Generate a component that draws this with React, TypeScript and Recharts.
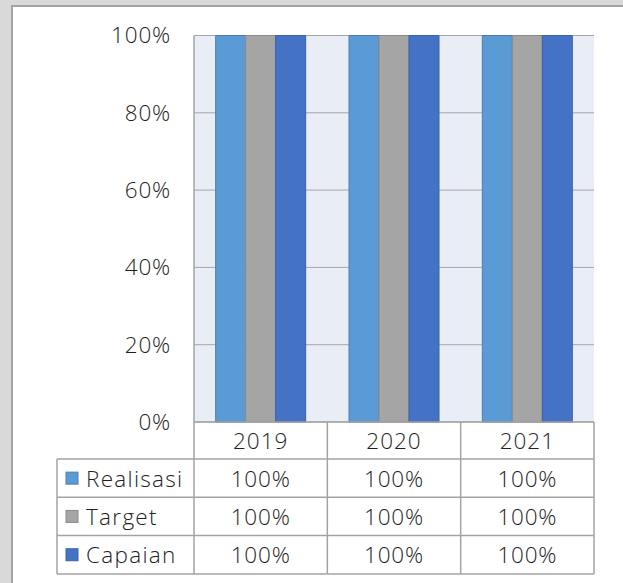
import { BarChart, Bar, XAxis, YAxis, CartesianGrid } from 'recharts';

const years = ['2019', '2020', '2021'];
const realisasi = [1, 1, 1];
const target = [1, 1, 1];
const capaian = [1, 1, 1];
const yTicks = [0, 0.2, 0.4, 0.6, 0.8, 1];

const series = [
  { key: 'realisasi', name: 'Realisasi', fill: '#5B9BD5', stroke: '#4A7FB0', values: realisasi },
  { key: 'target', name: 'Target', fill: '#A5A5A5', stroke: '#8A8A8A', values: target },
  { key: 'capaian', name: 'Capaian', fill: '#4472C4', stroke: '#3A62A8', values: capaian },
];

const data = years.map((year, i) => ({
  year,
  realisasi: realisasi[i],
  target: target[i],
  capaian: capaian[i],
}));

const FONT = '"Open Sans", "DejaVu Sans", sans-serif';
const TEXT = '#1e1e1e';
const LINE = '#a3a3a3';
const HEADER_H = 37;
const ROW_H = 38.3;
const LEGEND_W = 137;

const pct = (v: number) => `${Math.round(v * 100)}%`;

// draws one column of the data table under each category
function TableTick(props: any) {
  const { x, y, width, payload, index } = props;
  const colW = width / years.length;
  const left = x - colW / 2;
  const right = x + colW / 2;
  const bottom = y + HEADER_H + ROW_H * series.length;
  const lines = [];
  lines.push(<line key="vl" x1={left} x2={left} y1={y} y2={bottom} />);
  if (index === years.length - 1) lines.push(<line key="vr" x1={right} x2={right} y1={y} y2={bottom} />);
  for (let r = 0; r <= series.length; r++) {
    const ly = y + HEADER_H + ROW_H * r;
    const lx = index === 0 ? left - LEGEND_W : left;
    lines.push(<line key={`h${r}`} x1={lx} x2={right} y1={ly} y2={ly} />);
  }
  if (index === 0) {
    lines.push(
      <line key="lg" x1={left - LEGEND_W} x2={left - LEGEND_W} y1={y + HEADER_H} y2={bottom} />
    );
  }
  return (
    <g>
      <g stroke={LINE} strokeWidth={1.5}>{lines}</g>
      <text x={x} y={y + HEADER_H / 2} textAnchor="middle" dominantBaseline="central"
        fontFamily={FONT} fontWeight={300} fontSize={22.5} fill={TEXT} letterSpacing={1}>
        {payload.value}
      </text>
      {series.map((s, r) => {
        const cy = y + HEADER_H + ROW_H * r + ROW_H / 2;
        return (
          <g key={s.key}>
            <text x={x} y={cy} textAnchor="middle" dominantBaseline="central"
              fontFamily={FONT} fontWeight={300} fontSize={22.5} fill={TEXT} letterSpacing={0.8}>
              {pct(s.values[index])}
            </text>
            {index === 0 && (
              <g>
                <rect x={left - LEGEND_W + 9} y={cy - 6} width={12} height={12}
                  fill={s.fill} stroke={s.stroke} strokeWidth={1} />
                <text x={left - LEGEND_W + 29} y={cy} dominantBaseline="central"
                  fontFamily={FONT} fontWeight={300} fontSize={22.5} fill={TEXT} letterSpacing={1.3}>
                  {s.name}
                </text>
              </g>
            )}
          </g>
        );
      })}
    </g>
  );
}

export default function App() {
  return (
    <div style={{ position: 'absolute', left: 0, top: 0, width: 623, height: 583, overflow: 'hidden', background: '#d9d9d9' }}>
      <div style={{ position: 'absolute', left: 11, top: 5, width: 700, height: 700, background: '#fff', borderLeft: `2px solid ${LINE}`, borderTop: `2px solid ${LINE}` }} />
      <div style={{ position: 'absolute', left: 0, top: 0 }}>
        <BarChart width={623} height={583} data={data}
          margin={{ top: 35.5, right: 29, bottom: 9, left: 0 }}
          barCategoryGap="16.25%" barGap={0}>
          <CartesianGrid vertical={false} stroke="#a6a6a6" fill="#E9EDF5" fillOpacity={1} />
          <XAxis dataKey="year" height={152} tickLine={false} tickSize={0} tickMargin={0}
            axisLine={{ stroke: LINE, strokeWidth: 1.5 }} tick={<TableTick />} interval={0} />
          <YAxis width={194} domain={[0, 1]} ticks={yTicks} tickFormatter={pct}
            tickLine={false} tickSize={0} tickMargin={23}
            axisLine={{ stroke: LINE, strokeWidth: 1.5 }}
            tick={{ fontFamily: FONT, fontWeight: 300, fontSize: 22.5, fill: TEXT, letterSpacing: 0.8 }} />
          {series.map((s) => (
            <Bar key={s.key} dataKey={s.key} name={s.name} fill={s.fill} stroke={s.stroke}
              strokeWidth={1} isAnimationActive={false} />
          ))}
        </BarChart>
      </div>
    </div>
  );
}
